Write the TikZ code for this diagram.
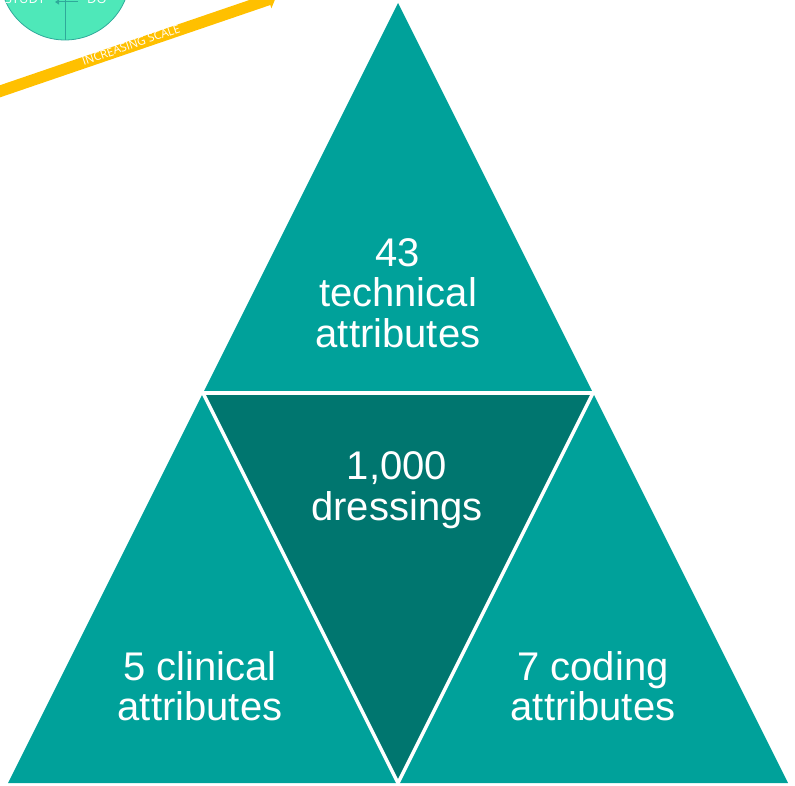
\documentclass[tikz,border=0pt]{standalone}
\usepackage{fontspec}
\setmainfont{Liberation Sans}
\newfontfamily\smallsans{Open Sans}
\usetikzlibrary{arrows.meta,calc}
\definecolor{tealmain}{HTML}{00A19A}
\definecolor{tealdark}{HTML}{00766F}
\definecolor{mintfill}{HTML}{4EE8B9}
\definecolor{mintline}{HTML}{2FA99A}
\definecolor{scaleyellow}{HTML}{FFC000}
\tikzset{
	bigtext/.style={text=white, align=center, font=\fontsize{40}{40.5}\selectfont},
	gapline/.style={white, line width=3.5pt},
}
\begin{document}
\begin{tikzpicture}[x=1pt,y=-1pt]
	\useasboundingbox (0,0) rectangle (795,786);
	\clip (0,0) rectangle (795,786);

	% corner cycle and scale arrow
	\filldraw[fill=mintfill, draw=mintline, line width=0.8pt] (65,-25) circle (65);
	\draw[mintline, line width=1pt] (65,-25) -- (65,40);
	\draw[mintline, line width=1pt, -{Triangle[length=4pt,width=5pt]}] (78,2) -- (55,2);
	\node[text=white, font=\smallsans\fontsize{13}{13}\selectfont, anchor=base] (study) at (25,4) {STUDY};
	\node[text=white, font=\smallsans\fontsize{13}{13}\selectfont, anchor=base] (do) at (97,4) {DO};
	\draw[scaleyellow, line width=11.5pt, -{Triangle[length=8pt,width=18pt]}] (-5,93) -- (276,-3);
	\node[text=white, font=\smallsans\fontsize{11.5}{11.5}\selectfont, rotate=19] (scale) at (131,45) {INCREASING SCALE};

	% triangle of three parts
	\coordinate (apex) at (398,3);
	\coordinate (bl) at (8,783);
	\coordinate (br) at (788,783);
	\coordinate (ml) at (203,393);
	\coordinate (mr) at (593,393);
	\coordinate (mb) at (398,783);
	\fill[tealmain] (apex) -- (bl) -- (br) -- cycle;
	\fill[tealdark] (ml) -- (mr) -- (mb) -- cycle;
	\draw[gapline] ($(ml)!-0.02!(mr)$) -- ($(mr)!-0.02!(ml)$);
	\draw[gapline] (ml) -- (mb) -- (mr);

	\node[bigtext] (tech) at (398,293) {43\\technical\\attributes};
	\node[bigtext] (dress) at (397,490) {1,000\\dressings};
	\node[bigtext] (clin) at (200,686) {5 clinical\\attributes};
	\node[bigtext] (code) at (593,686) {7 coding\\attributes};
\end{tikzpicture}
\end{document}
